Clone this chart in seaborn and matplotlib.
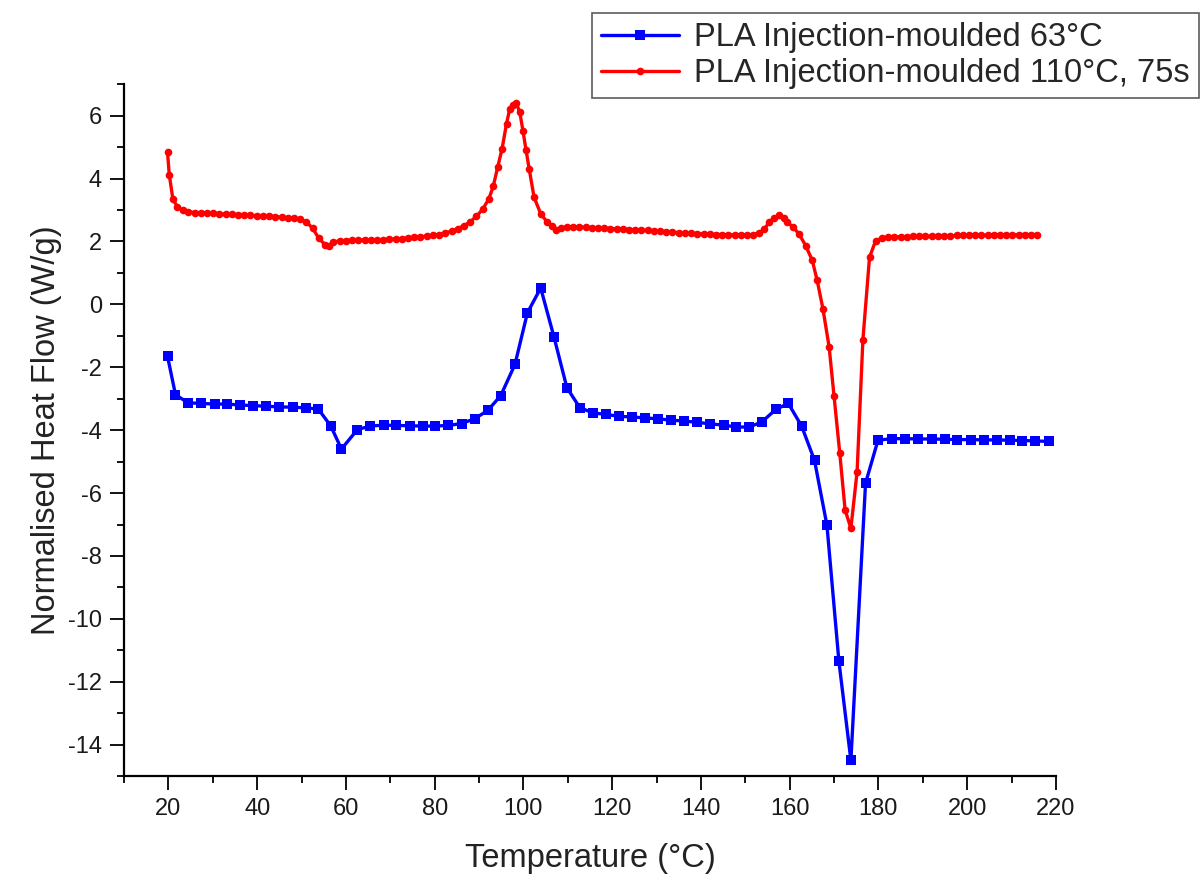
import matplotlib
matplotlib.use("Agg")
import matplotlib.pyplot as plt
import seaborn as sns
import pandas as pd

# Sample 1: injection-moulded at 63 C (blue, squares)
t_63 = [19.8, 21.6, 24.4, 27.4, 30.4, 33.2, 36.1, 39.1, 42.0, 45.0, 48.0, 50.9,
        53.8, 56.6, 59.0, 62.6, 65.5, 68.5, 71.4, 74.4, 77.3, 80.1, 83.1, 86.1,
        89.1, 92.0, 94.9, 98.1, 100.9, 103.9, 106.9, 109.8, 112.7, 115.6, 118.6,
        121.6, 124.4, 127.4, 130.4, 133.2, 136.2, 139.1, 142.1, 145.1, 148.0,
        150.9, 153.7, 156.9, 159.7, 162.7, 165.6, 168.4, 171.1, 173.8, 177.1,
        179.9, 183.0, 186.0, 189.0, 192.1, 195.0, 197.8, 200.8, 203.8, 206.8,
        209.6, 212.4, 215.3, 218.4]
hf_63 = [-1.65, -2.87, -3.13, -3.15, -3.17, -3.17, -3.20, -3.22, -3.24, -3.26, -3.27, -3.29,
         -3.33, -3.87, -4.60, -3.98, -3.87, -3.84, -3.85, -3.86, -3.87, -3.87, -3.85, -3.79,
         -3.63, -3.37, -2.90, -1.91, -0.27, 0.52, -1.04, -2.65, -3.28, -3.45, -3.50,
         -3.56, -3.58, -3.61, -3.64, -3.68, -3.71, -3.75, -3.80, -3.84, -3.90,
         -3.90, -3.74, -3.34, -3.15, -3.87, -4.96, -7.02, -11.35, -14.50, -5.69,
         -4.32, -4.27, -4.27, -4.28, -4.28, -4.29, -4.30, -4.30, -4.31, -4.31,
         -4.32, -4.33, -4.34, -4.36]

# Sample 2: injection-moulded at 110 C, 75 s (red, circles)
t_110 = [19.8, 20.2, 21.0, 22.0, 23.2, 24.5, 25.9, 27.3, 28.7, 30.1, 31.5, 32.9,
         34.3, 35.7, 37.1, 38.5, 39.9, 41.3, 42.7, 44.1, 45.5, 46.9, 48.3, 49.7,
         51.1, 52.5, 53.9, 55.3, 56.2, 57.2, 58.6, 60.0, 61.4, 62.8, 64.2, 65.6,
         67.0, 68.4, 69.8, 71.2, 72.6, 74.0, 75.4, 76.8, 78.2, 79.6, 81.0, 82.4,
         83.8, 85.2, 86.6, 88.0, 89.4, 90.8, 92.2, 93.2, 94.2, 95.2, 96.2, 96.9,
         97.6, 98.4, 99.2, 99.9, 100.6, 101.3, 102.4, 103.9, 105.4, 106.5, 107.3,
         108.4, 109.8, 111.2, 112.6, 114.0, 115.4, 116.8, 118.2, 119.6, 121.0,
         122.4, 123.8, 125.2, 126.6, 128.0, 129.4, 130.8, 132.2, 133.6, 135.0,
         136.4, 137.8, 139.2, 140.6, 142.0, 143.4, 144.8, 146.2, 147.6, 149.0,
         150.4, 151.8, 153.1, 154.3, 155.4, 156.5, 157.6, 158.7, 159.5, 160.8,
         162.1, 163.6, 165.1, 166.2, 167.5, 168.9, 170.0, 171.3, 172.5, 173.8,
         175.2, 176.5, 178.0, 179.4, 180.8, 182.2, 183.6, 185.0, 186.4, 187.8,
         189.2, 190.6, 192.0, 193.4, 194.8, 196.2, 197.6, 199.0, 200.4, 201.8,
         203.2, 204.6, 206.0, 207.4, 208.8, 210.2, 211.6, 213.0, 214.4, 215.8]
hf_110 = [4.84, 4.12, 3.36, 3.10, 3.00, 2.95, 2.92, 2.91, 2.90, 2.89, 2.88, 2.87,
          2.86, 2.85, 2.84, 2.83, 2.82, 2.81, 2.80, 2.79, 2.77, 2.75, 2.73, 2.70,
          2.62, 2.42, 2.10, 1.90, 1.85, 1.98, 2.02, 2.03, 2.04, 2.04, 2.05, 2.05,
          2.05, 2.06, 2.07, 2.08, 2.09, 2.11, 2.13, 2.15, 2.17, 2.19, 2.22, 2.27,
          2.33, 2.41, 2.50, 2.62, 2.80, 3.02, 3.35, 3.75, 4.36, 4.95, 5.75, 6.20,
          6.35, 6.40, 6.10, 5.52, 4.90, 4.31, 3.41, 2.88, 2.61, 2.50, 2.35,
          2.42, 2.46, 2.46, 2.45, 2.45, 2.44, 2.43, 2.42, 2.41, 2.40,
          2.39, 2.38, 2.37, 2.36, 2.35, 2.34, 2.32, 2.31, 2.30, 2.28,
          2.27, 2.26, 2.25, 2.24, 2.23, 2.22, 2.22, 2.21, 2.21, 2.21,
          2.21, 2.22, 2.26, 2.40, 2.61, 2.75, 2.83, 2.75, 2.61, 2.45,
          2.24, 1.87, 1.40, 0.76, -0.14, -1.36, -2.92, -4.74, -6.54, -7.12,
          -5.32, -1.14, 1.50, 2.03, 2.10, 2.13, 2.14, 2.15, 2.15, 2.16,
          2.16, 2.17, 2.17, 2.18, 2.18, 2.18, 2.19, 2.19, 2.19, 2.20,
          2.20, 2.20, 2.21, 2.21, 2.21, 2.21, 2.22, 2.22, 2.22, 2.22]

label_63 = "PLA Injection-moulded 63°C"
label_110 = "PLA Injection-moulded 110°C, 75s"

df_63 = pd.DataFrame({"T": t_63, "HF": hf_63})
df_110 = pd.DataFrame({"T": t_110, "HF": hf_110})

sns.set_theme(style="ticks")
plt.rcParams["font.family"] = ["Liberation Sans", "DejaVu Sans"]
plt.rcParams["axes.unicode_minus"] = False

fig = plt.figure(figsize=(12.04, 8.77), dpi=100)
ax = fig.add_axes([0.103, 0.115, 0.774, 0.789])

sns.lineplot(data=df_63, x="T", y="HF", ax=ax, color="#0000ff", lw=2.4,
             marker="s", markersize=7, markeredgewidth=0, label=label_63)
sns.lineplot(data=df_110, x="T", y="HF", ax=ax, color="#ff0000", lw=2.4,
             marker="o", markersize=5.5, markeredgewidth=0, label=label_110)

ax.set_xlim(10, 220)
ax.set_ylim(-15, 7)
ax.set_xticks(range(20, 221, 20))
ax.set_xticks(range(10, 221, 20), minor=True)
ax.set_yticks(range(-14, 7, 2))
ax.set_yticks(range(-15, 8, 2), minor=True)
ax.tick_params(which="major", direction="out", length=10, width=1.3,
               labelsize=17, color="black", labelcolor="#1a1a1a", pad=6)
ax.tick_params(which="minor", direction="out", length=5, width=1.3, color="black")
for s in ["top", "right"]:
    ax.spines[s].set_visible(False)
for s in ["left", "bottom"]:
    ax.spines[s].set_linewidth(1.6)
    ax.spines[s].set_color("black")

ax.set_xlabel("Temperature (°C)", fontsize=23.5, color="#222222", labelpad=16)
ax.set_ylabel("Normalised Heat Flow (W/g)", fontsize=23.5, color="#222222", labelpad=4)

ax.get_legend().remove()
handles, labels = ax.get_legend_handles_labels()
leg = fig.legend(handles, labels, loc="upper left",
                 bbox_to_anchor=(592 / 1204, 1 - 13 / 877), fontsize=23.5,
                 frameon=True, fancybox=False, edgecolor="#333333",
                 handlelength=2.4, handletextpad=0.45, borderpad=0.28,
                 labelspacing=0.15, borderaxespad=0)
leg.get_frame().set_linewidth(1.2)

fig.savefig("out.png", dpi=100)
